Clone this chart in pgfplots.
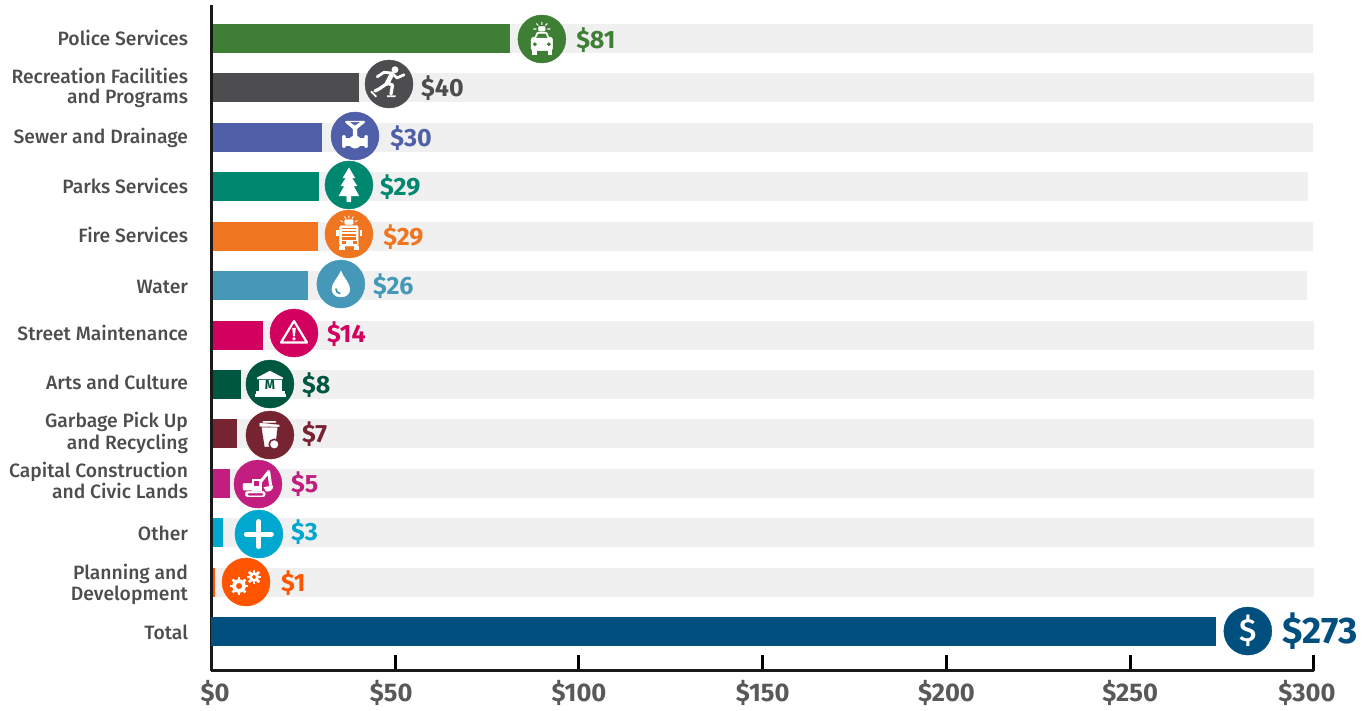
\documentclass[border=0pt]{standalone}
\usepackage{fontspec}
\setmainfont{Fira Sans}[UprightFont=* Medium,BoldFont=* Bold]
\usepackage{pgfplots}
\pgfplotsset{compat=1.18}
\definecolor{cPolice}{HTML}{3F7F35}
\definecolor{cRec}{HTML}{4D4D4F}
\definecolor{cSewer}{HTML}{4F5FA8}
\definecolor{cParks}{HTML}{00876F}
\definecolor{cFire}{HTML}{F07521}
\definecolor{cWater}{HTML}{4598B8}
\definecolor{cStreet}{HTML}{D2005F}
\definecolor{cArts}{HTML}{00573F}
\definecolor{cGarb}{HTML}{762432}
\definecolor{cCap}{HTML}{C11E80}
\definecolor{cOther}{HTML}{00A7CF}
\definecolor{cPlan}{HTML}{FF5500}
\definecolor{cTotal}{HTML}{004F7F}
\definecolor{cBg}{HTML}{F0F0F0}
\definecolor{cText}{HTML}{4D4D4F}
\definecolor{cTick}{HTML}{58595B}
\newcommand\up[2]{\raisebox{#1pt}[\height][\depth]{#2}}
\newcommand\two[3]{\raisebox{#1pt}[\height][\depth]{\begin{tabular}{@{}r@{}}#2\\#3\end{tabular}}}
\newcommand\disc[1]{\fill[#1] (0,0) circle (24pt);}
\newcommand\gear[4]{%
  \foreach \a in {0,45,...,315}{\draw[white,line width=2.6pt] (#1,#2) -- ++(\a:#3+2.6);}
  \fill[white] (#1,#2) circle (#3pt);
  \fill[#4] (#1,#2) circle (#3*0.42pt);}
\pgfdeclareplotmark{iPolice}{\begin{scope}[x=1pt,y=1pt]\disc{cPolice}
  \fill[white,rounded corners=2.5pt] (-10.7,-11.7) rectangle (10.7,1.8);
  \fill[white,rounded corners=1pt] (-7.5,0) -- (-5,6.8) -- (5,6.8) -- (7.5,0) -- cycle;
  \fill[cPolice] (-5.3,1.4) -- (-3.5,5) -- (3.5,5) -- (5.3,1.4) -- cycle;
  \fill[cPolice] (-7,-5.3) circle (1.7pt); \fill[cPolice] (7,-5.3) circle (1.7pt);
  \fill[white] (-9.3,-15) rectangle (-6,-11.7); \fill[white] (6,-15) rectangle (9.3,-11.7);
  \fill[white,rounded corners=1pt] (-3.3,7.8) rectangle (3.3,12.7);
  \draw[white,line width=1.1pt] (-5.5,10)--(-8.5,10) (5.5,10)--(8.5,10) (-3.6,13.5)--(-5.5,15.5) (3.6,13.5)--(5.5,15.5) (0,14)--(0,17);
\end{scope}}
\pgfdeclareplotmark{iRec}{\begin{scope}[x=1pt,y=1pt]\disc{cRec}
  \fill[white] (6,14.3) circle (3.2pt);
  \draw[white,line width=2.8pt,line cap=round,line join=round] (-11.7,7.3) -- (-5,11.7) -- (3,11) -- (8,6) -- (15,9.3);
  \draw[white,line width=4.6pt,line cap=round,line join=round] (3,10) -- (-2,0.5);
  \draw[white,line width=3.2pt,line cap=round,line join=round] (-2,0.5) -- (-10,-5) -- (-14,-7);
  \draw[white,line width=3.2pt,line cap=round,line join=round] (-2,1) -- (3.5,-1) -- (2,-10);
  \draw[white,line width=1.7pt] (-18,-7.3) -- (-12.7,-12.7) (-2,-12.3) -- (6.7,-12.3);
\end{scope}}
\pgfdeclareplotmark{iSewer}{\begin{scope}[x=1pt,y=1pt]\disc{cSewer}
  \fill[white] (-9.3,15) -- (9.3,15) -- (9.3,13.4) -- (2,7.3) -- (2,-1) -- (-2,-1) -- (-2,7.3) -- (-9.3,13.4) -- cycle;
  \fill[cSewer] (-4,13.6) -- (4,13.6) -- (0,10.8) -- cycle;
  \fill[white] (0,-6) circle (6.2pt);
  \fill[white] (-10,-9.3) rectangle (10,-1.7);
  \fill[white,rounded corners=1pt] (-12.7,-11.7) rectangle (-9.5,0.7);
  \fill[white,rounded corners=1pt] (9.5,-11.7) rectangle (12.7,0.7);
\end{scope}}
\pgfdeclareplotmark{iParks}{\begin{scope}[x=1pt,y=1pt]\disc{cParks}
  \fill[white] (0,17) -- (-6,7) -- (-3,7) -- (-8,-1) -- (-4.5,-1) -- (-10,-11) -- (-2,-11) -- (-2,-17) -- (2,-17) -- (2,-11) -- (10,-11) -- (4.5,-1) -- (8,-1) -- (3,7) -- (6,7) -- cycle;
\end{scope}}
\pgfdeclareplotmark{iFire}{\begin{scope}[x=1pt,y=1pt]\disc{cFire}
  \fill[white,rounded corners=1.5pt] (-9.3,-12) rectangle (9.3,8.5);
  \fill[cFire] (-6.7,-1.5) rectangle (6.7,6.2);
  \fill[white] (-6.7,1) rectangle (6.7,2); \fill[white] (-6.7,3.6) rectangle (6.7,4.4);
  \fill[cFire] (-6.7,-5) rectangle (6.7,-3.5);
  \fill[cFire] (-7,-9) rectangle (-4,-7); \fill[cFire] (7,-9) rectangle (4,-7);
  \fill[white] (-12.7,-1.5) rectangle (-11,3.5); \fill[white] (11,-1.5) rectangle (12.7,3.5);
  \fill[white] (-9.3,-15) rectangle (-5,-12); \fill[white] (5,-15) rectangle (9.3,-12);
  \fill[white,rounded corners=1pt] (-4.2,9.6) rectangle (4.2,14.5);
  \draw[white,line width=.9pt] (-6,12)--(-8.5,13.5) (6,12)--(8.5,13.5) (-3,15.5)--(-4.5,17.5) (3,15.5)--(4.5,17.5) (0,16)--(0,18.5);
\end{scope}}
\pgfdeclareplotmark{iWater}{\begin{scope}[x=1pt,y=1pt]\disc{cWater}
  \fill[white] (0,13) .. controls (2,7) and (9,1) .. (9,-5) .. controls (9,-10) and (5,-13) .. (0,-13) .. controls (-5,-13) and (-9,-10) .. (-9,-5) .. controls (-9,1) and (-2,7) .. cycle;
  \draw[cWater,line width=1.8pt,line cap=round] (-4.8,-5) .. controls (-4.8,-7.5) and (-3,-9) .. (-1,-9.3);
\end{scope}}
\pgfdeclareplotmark{iStreet}{\begin{scope}[x=1pt,y=1pt]\disc{cStreet}
  \draw[white,line width=2.2pt,line join=round] (0,12) -- (13,-9.5) -- (-13,-9.5) -- cycle;
  \fill[white] (-1.4,5) -- (1.4,5) -- (.8,-3) -- (-.8,-3) -- cycle;
  \fill[white] (0,-5.8) circle (1.5pt);
\end{scope}}
\pgfdeclareplotmark{iArts}{\begin{scope}[x=1pt,y=1pt]\disc{cArts}
  \fill[white] (-12.7,6.3) -- (0,13) -- (12.7,6.3) -- (12.7,5) -- (-12.7,5) -- cycle;
  \fill[white] (-11,-5.8) rectangle (-7.5,3.5); \fill[white] (7.5,-5.8) rectangle (11,3.5);
  \fill[white] (-6.5,-5.8) rectangle (6.5,3.5);
  \node[text=cArts,inner sep=0pt,font=\bfseries\fontsize{13}{13}\selectfont] at (0,-1.2) {M};
  \fill[white] (-14,-8.8) rectangle (14,-7.3);
  \fill[white] (-15,-11.8) rectangle (15,-10.4);
\end{scope}}
\pgfdeclareplotmark{iGarb}{\begin{scope}[x=1pt,y=1pt]\disc{cGarb}
  \fill[white] (-10,12) -- (9.3,10) -- (9.3,8.3) -- (-10,8.8) -- cycle;
  \fill[white,rounded corners=.8pt] (-7,12.6) rectangle (6,13.8);
  \fill[white] (-8,7.3) -- (7.3,7.3) -- (5.5,-7) -- (2,-11.7) -- (-5,-11.7) -- cycle;
  \fill[cGarb] (4.3,-9.3) circle (5.6pt);
  \fill[white] (4.3,-9.3) circle (3.8pt);
\end{scope}}
\pgfdeclareplotmark{iCap}{\begin{scope}[x=1pt,y=1pt]\disc{cCap}
  \fill[white,rounded corners=2.5pt] (-12.7,-12.7) rectangle (7.3,-7.3);
  \fill[cCap,rounded corners=1pt] (-10,-11.2) rectangle (5,-9.4);
  \fill[white] (-6,-6) rectangle (3.3,5);
  \fill[white,rounded corners=1pt] (-15,-6) rectangle (-5,0.7);
  \fill[cCap] (-4,-0.7) rectangle (0,3.3);
  \draw[white,line width=3pt,line join=round] (2,1.5) -- (10.7,12.5) -- (12.7,-1.7);
  \fill[white] (6,-3.3) -- (15,-1.7) .. controls (15,-6) and (11,-8) .. (8,-7) -- cycle;
\end{scope}}
\pgfdeclareplotmark{iOther}{\begin{scope}[x=1pt,y=1pt]\disc{cOther}
  \draw[white,line width=5pt,line cap=round] (-12.5,0) -- (12.5,0) (0,-12.5) -- (0,12.5);
\end{scope}}
\pgfdeclareplotmark{iPlan}{\begin{scope}[x=1pt,y=1pt]\disc{cPlan}
  \gear{-7}{-4}{6.5}{cPlan}
  \gear{8}{5}{4.6}{cPlan}
\end{scope}}
\pgfdeclareplotmark{iTotal}{\begin{scope}[x=1pt,y=1pt]\disc{cTotal}
  \node[text=white,inner sep=0pt,font=\fontsize{32}{32}\selectfont] at (0,0) {\$};
\end{scope}}
% one row: y, value, background end, colour
\newcommand\row[4]{%
  \addplot[xbar,draw=none,fill=cBg] coordinates {(#3,#1)};
  \addplot[xbar,draw=none,fill=#4] coordinates {(#2,#1)};}
\newcommand\icon[3]{\addplot[only marks,mark=#3] coordinates {(#1,#2)};}
\newcommand\val[4]{%
  \addplot[only marks,mark=none,nodes near coords={\$#3},
    every node near coord/.append style={anchor=mid west,inner sep=0pt,text=#4,yshift=-6pt,
      font=\bfseries\fontsize{25}{25}\selectfont}] coordinates {(#1,#2)};}
\begin{document}
\begin{tikzpicture}
\useasboundingbox (0,0) rectangle (1371pt,711pt);
\begin{axis}[
  at={(211.5pt,40pt)},anchor=south west,
  scale only axis,width=1102.5pt,height=666pt,
  xmin=0,xmax=300,ymin=-0.797,ymax=12.678,
  clip=false,
  bar width=29pt,bar shift=0pt,
  axis x line=bottom,axis y line=left,
  x axis line style={-,line width=3pt,color=black!90},
  y axis line style={-,draw=none},
  xtick={0,50,100,150,200,250,300},
  xticklabels={\makebox[0pt]{\hspace{7pt}\$0},\makebox[0pt]{\hspace{-8pt}\$50},\makebox[0pt]{\$100},\makebox[0pt]{\$150},\makebox[0pt]{\$200},\makebox[0pt]{\$250},\makebox[0pt]{\hspace{-14pt}\$300}},
  xtick align=inside,
  major tick length=16pt,
  every tick/.style={black,line width=3pt},
  xticklabel style={font=\bfseries\fontsize{25.5}{25.5}\selectfont,text=cTick,yshift=-6pt},
  ytick={0,1,...,12},
  yticklabels={\up{-1}{Total},\two{-3}{Planning and}{Development},\up{-1}{Other},\two{0}{Capital Construction}{and Civic Lands},\two{0}{Garbage Pick Up}{and Recycling},\up{2}{Arts and Culture},\up{2}{Street Maintenance},\up{-1}{Water},\up{1}{Fire Services},\up{1}{Parks Services},\up{-1}{Sewer and Drainage},\two{-1}{Recreation Facilities}{and Programs},\up{1}{Police Services}},
  ytick style={draw=none},
  y tick label style={align=right,font=\fontsize{19.3}{20.7}\selectfont,text=cText,xshift=-12pt},
]
\row{12}{81.2}{299.7}{cPolice}
\row{11}{40.1}{300}{cRec}
\row{10}{30.1}{299.8}{cSewer}
\row{9}{29.3}{298.5}{cParks}
\row{8}{29.0}{299.7}{cFire}
\row{7}{26.3}{298}{cWater}
\row{6}{14.0}{300}{cStreet}
\row{5}{8.0}{300}{cArts}
\row{4}{7.0}{300}{cGarb}
\row{3}{5.0}{300}{cCap}
\row{2}{3.2}{300}{cOther}
\row{1}{1.0}{300}{cPlan}
\addplot[color=black!90,line width=3pt,mark=none] coordinates {(0,-0.797)(0,12.678)};
\addplot[xbar,draw=none,fill=cTotal] coordinates {(273.4,0)};
\icon{89.9}{11.99}{iPolice}
\icon{48.3}{11.079}{iRec}
\icon{39.05}{10.027}{iSewer}
\icon{37.4}{9.036}{iParks}
\icon{37.4}{8.044}{iFire}
\icon{35.2}{7.032}{iWater}
\icon{22.45}{6.041}{iStreet}
\icon{15.9}{5.009}{iArts}
\icon{15.9}{3.977}{iGarb}
\icon{12.65}{2.985}{iCap}
\icon{12.9}{1.974}{iOther}
\icon{9.4}{1.003}{iPlan}
\icon{282}{0.011}{iTotal}
\val{99.2}{11.97}{81}{cPolice}
\val{57.0}{11}{40}{cRec}
\val{48.6}{9.99}{30}{cSewer}
\val{45.85}{8.995}{29}{cParks}
\val{46.7}{7.98}{29}{cFire}
\val{43.9}{6.99}{26}{cWater}
\val{31.4}{6.02}{14}{cStreet}
\val{24.6}{5.0}{8}{cArts}
\val{24.6}{4.0}{7}{cGarb}
\val{21.6}{2.985}{5}{cCap}
\val{21.6}{2.015}{3}{cOther}
\val{18.9}{0.98}{1}{cPlan}
\addplot[only marks,mark=none,nodes near coords={\$273},
    every node near coord/.append style={anchor=mid west,inner sep=0pt,text=cTotal,yshift=-10pt,
      font=\bfseries\fontsize{37}{37}\selectfont}] coordinates {(291.4,0.01)};
\end{axis}
\end{tikzpicture}
\end{document}
